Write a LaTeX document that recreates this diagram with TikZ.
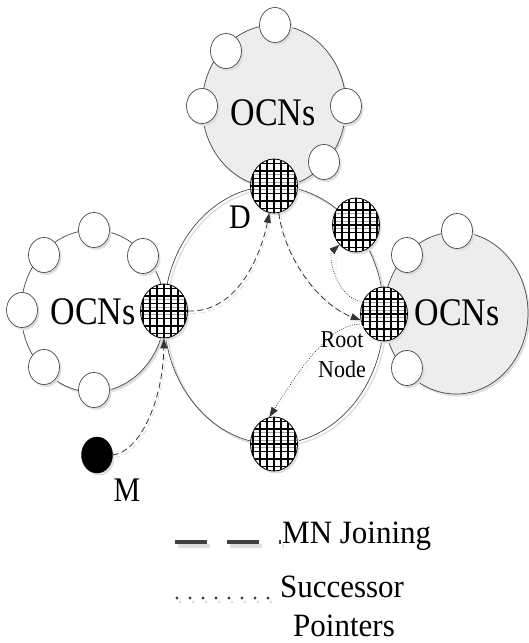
\documentclass[tikz,border=0pt]{standalone}
\usepackage{fontspec}
\setmainfont{Liberation Serif}
\usepackage{graphicx}
\usetikzlibrary{arrows.meta,shapes.geometric,shadows}
\definecolor{clfill}{HTML}{EDEDED}
\definecolor{edgec}{HTML}{474747}
\definecolor{shadowgray}{HTML}{DEDEDE}
\definecolor{conn}{HTML}{333333}
\newcommand{\vstretch}[2]{\scalebox{1}[#1]{#2}}
\tikzset{
  myshadow/.style={drop shadow={shadow xshift=2pt, shadow yshift=-2.5pt, fill=shadowgray, opacity=1}},
  cluster/.style={ellipse, draw=edgec, line width=0.7pt, minimum width=144pt, minimum height=162pt, inner sep=0pt, myshadow},
  smallc/.style={ellipse, draw=edgec, line width=0.7pt, fill=white, minimum width=31pt, minimum height=35pt, inner sep=0pt, myshadow},
  gridc/.style={ellipse, draw=black, line width=0.8pt, fill=white, minimum width=47pt, minimum height=54pt, inner sep=0pt, myshadow,
    path picture={
      \foreach \g in {-1,1,3}
        \draw[black!35, line width=0.6pt] ([yshift=\g*3.75pt]path picture bounding box.west) -- ([yshift=\g*3.75pt]path picture bounding box.east);
      \foreach \i in {-3,...,3}
        \draw[black, line width=1.2pt] ([xshift=\i*7pt]path picture bounding box.north) -- ([xshift=\i*7pt]path picture bounding box.south);
      \foreach \j in {-3,...,3}
        \draw[black, line width=1.2pt] ([yshift=\j*7.5pt]path picture bounding box.west) -- ([yshift=\j*7.5pt]path picture bounding box.east);
    }},
  blackc/.style={ellipse, draw=black, fill=black, minimum width=31pt, minimum height=36pt, inner sep=0pt, myshadow},
  biglbl/.style={font=\fontsize{34}{40}\selectfont, inner sep=0pt, anchor=base},
  midlbl/.style={font=\fontsize{30}{36}\selectfont, inner sep=0pt, anchor=base},
  smalllbl/.style={font=\fontsize{22}{26}\selectfont, inner sep=0pt, anchor=base},
  legendlbl/.style={font=\fontsize{31}{38}\selectfont, inner sep=0pt},
  joinarrow/.style={draw=conn, line width=0.8pt, dash pattern=on 6pt off 3.5pt, -{Triangle[length=10pt,width=7pt]}},
  succarrow/.style={draw=conn, line width=0.7pt, dash pattern=on 0.8pt off 1.5pt, -{Triangle[length=10pt,width=7pt]}},
  joinshadow/.style={draw=shadowgray, line width=0.8pt, dash pattern=on 6pt off 3.5pt, transform canvas={xshift=2pt,yshift=-2.5pt}},
  succshadow/.style={draw=shadowgray, line width=0.7pt, dash pattern=on 0.8pt off 1.5pt, transform canvas={xshift=2pt,yshift=-2.5pt}},
}
\begin{document}
\begin{tikzpicture}[x=1pt,y=-1pt]
\useasboundingbox (0,0) rectangle (529,643);
% main ring
\draw[draw=shadowgray, line width=1.4pt] (276.5,317.5) ellipse [x radius=110, y radius=129];
\coordinate (ringc) at (274,315);
\draw[draw=edgec, line width=0.7pt] (ringc) ellipse [x radius=110, y radius=129];
% clusters
\node[cluster, fill=white] (Lc) at (93,311) {};
\node[cluster, fill=clfill] (Tc) at (274,106) {};
\node[cluster, fill=clfill] (Rc) at (456,313) {};
% small circles: top cluster
\node[smallc] (t1) at (275,25) {};
\node[smallc] (t2) at (226,51) {};
\node[smallc] (t3) at (202,106) {};
\node[smallc] (t4) at (346,106) {};
\node[smallc] (t5) at (324,162) {};
% left cluster
\node[smallc] (l1) at (94,230) {};
\node[smallc] (l2) at (44,255) {};
\node[smallc] (l3) at (143,256) {};
\node[smallc] (l4) at (22,310) {};
\node[smallc] (l5) at (44,367) {};
\node[smallc] (l6) at (94,390) {};
% right cluster
\node[smallc] (r1) at (457,231) {};
\node[smallc] (r2) at (407,255) {};
\node[smallc] (r3) at (407,368) {};
% grid nodes
\node[gridc] (D) at (274,186) {};
\node[gridc] (L) at (164,311) {};
\node[gridc] (R) at (384,314) {};
\node[gridc] (UR) at (356,225) {};
\node[gridc] (B) at (274,444) {};
% mobile node
\node[blackc] (M) at (97,455) {};
% connector shadows
\draw[joinshadow] (M.east) .. controls (140,452) and (163,400) .. (L.south);
\draw[joinshadow] (L.east) .. controls (240,313) and (262,250) .. (D.-100);
\draw[joinshadow] (D.-80) .. controls (285,260) and (320,305) .. (R.195);
\draw[succshadow] (R.150) .. controls (335,298) and (328,255) .. (UR.230);
\draw[succshadow] (R.205) .. controls (330,322) and (298,372) .. (B.100);
% connectors
\draw[joinarrow] (M.east) .. controls (140,452) and (163,400) .. (L.south);
\draw[joinarrow] (L.east) .. controls (240,313) and (262,250) .. (D.-100);
\draw[joinarrow] (D.-80) .. controls (285,260) and (320,305) .. (R.195);
\draw[succarrow] (R.150) .. controls (335,298) and (328,255) .. (UR.230);
\draw[succarrow] (R.205) .. controls (330,322) and (298,372) .. (B.100);
% labels
\node[biglbl] (ocnT) at (273,125) {\vstretch{1.15}{OCNs}};
\node[biglbl] (ocnL) at (93,324) {\vstretch{1.15}{OCNs}};
\node[biglbl] (ocnR) at (457,325) {\vstretch{1.15}{OCNs}};
\node[midlbl] (Dlbl) at (240,228) {\vstretch{1.15}{D}};
\node[midlbl] (Mlbl) at (127,501) {\vstretch{1.15}{M}};
\node[smalllbl] (root) at (342,347) {\vstretch{1.1}{Root}};
\node[smalllbl] (nodel) at (342,377) {\vstretch{1.1}{Node}};
% legend
\coordinate (j1) at (175,542);
\coordinate (j2) at (281,542);
\draw[draw=shadowgray, line width=4pt, dash pattern=on 32pt off 20pt, transform canvas={xshift=3pt,yshift=-4pt}] (j1) -- (j2);
\draw[draw=black!75, line width=4pt, dash pattern=on 32pt off 20pt] (j1) -- (j2);
\coordinate (s1) at (177,598);
\coordinate (s2) at (270,598);
\draw[draw=shadowgray, line width=3.2pt, line cap=round, dash pattern=on 0pt off 13pt, transform canvas={xshift=3pt,yshift=-4pt}] (s1) -- (s2);
\draw[draw=black!75, line width=3.2pt, line cap=round, dash pattern=on 0pt off 13pt] (s1) -- (s2);
\node[legendlbl, anchor=base west] (mnj) at (282,543) {\vstretch{1.05}{MN Joining}};
\node[legendlbl, anchor=base] (succ) at (342,597) {\vstretch{1.05}{Successor}};
\node[legendlbl, anchor=base] (ptr) at (344,636) {\vstretch{1.05}{Pointers}};
\end{tikzpicture}
\end{document}
